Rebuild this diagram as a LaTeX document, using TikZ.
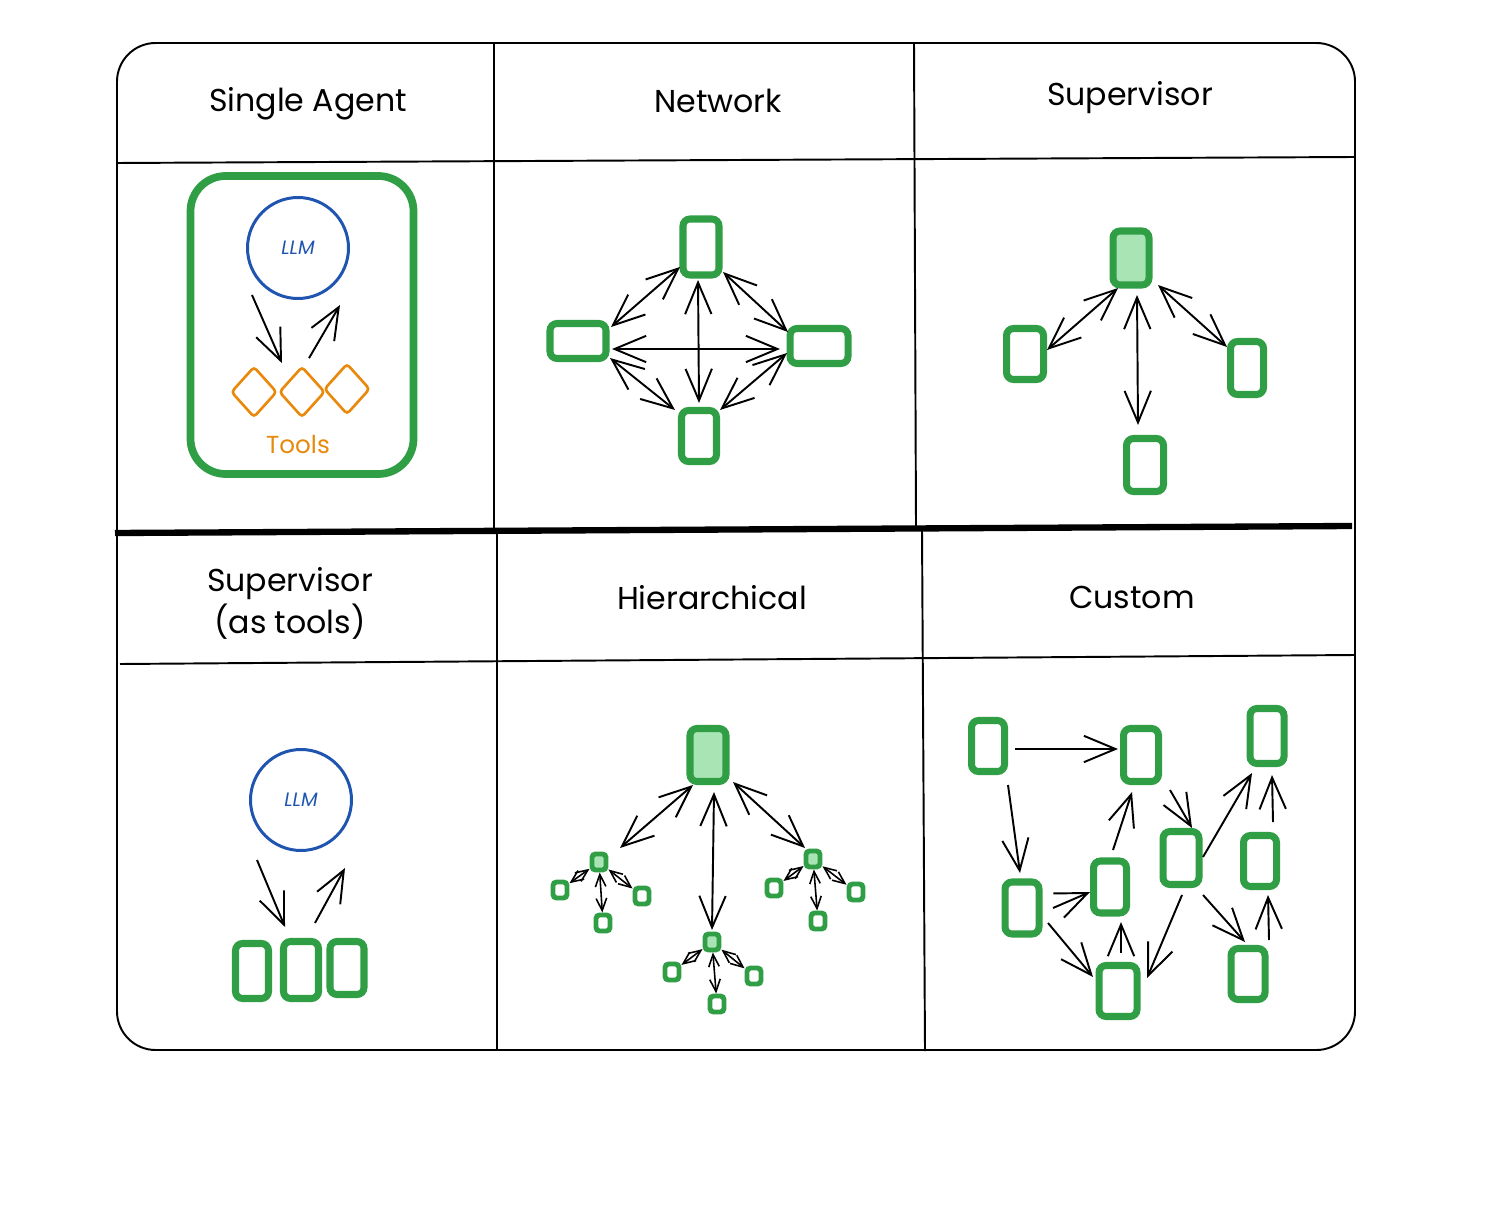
\documentclass[tikz,border=0pt]{standalone}
\usepackage{fontspec}
\setmainfont{Poppins}
\usetikzlibrary{arrows.meta,shapes.geometric}

\definecolor{agentgreen}{HTML}{2F9E44}
\definecolor{agentfill}{HTML}{A9E5B4}
\definecolor{llmblue}{HTML}{1F55B0}
\definecolor{toolorange}{HTML}{E8890C}

\tikzset{
  >={Straight Barb[length=18pt,width=15pt]},
  frame/.style={line width=1.1pt, black},
  heavyrule/.style={line width=3.6pt, black},
  header/.style={font=\fontsize{18}{24}\selectfont, align=center},
  agent/.style 2 args={draw=agentgreen, line width=4pt, rounded corners=4pt,
    fill=white, inner sep=0pt,
    minimum width={(#1-7)*0.02cm}, minimum height={(#2-7)*0.02cm}},
  boss/.style 2 args={agent={#1}{#2}, fill=agentfill},
  mini/.style={draw=agentgreen, line width=2.8pt, rounded corners=2pt,
    fill=white, inner sep=0pt,
    minimum width={14*0.02cm}, minimum height={16*0.02cm}},
  minifill/.style={mini, fill=agentfill},
  llm/.style={circle, draw=llmblue, line width=1.7pt, inner sep=0pt,
    minimum size={101*0.02cm}, text=llmblue,
    font=\itshape\fontsize{11}{13}\selectfont},
  tool/.style={diamond, draw=toolorange, line width=1.5pt, inner sep=0pt,
    rounded corners=2pt, minimum width={46*0.02cm}, minimum height={51*0.02cm}},
  link/.style={<->, line width=1.1pt, black},
  flow/.style={->, line width=1.1pt, black},
  sublink/.style={{Straight Barb[length=7pt,width=6pt]}-{Straight Barb[length=7pt,width=6pt]},
    line width=0.9pt, black},
}

\begin{document}
\begin{tikzpicture}[x=0.02cm, y=-0.02cm]
  \useasboundingbox (0,0) rectangle (1496,1222);
  \fill[white] (0,0) rectangle (1496,1222);

  % ---- grid of the six panels ----
  \draw[frame, rounded corners=22pt] (117,43) rectangle (1355,1050);
  \draw[frame] (494,43) -- (494,530);
  \draw[frame] (497,530) -- (497,1051);
  \draw[frame] (914,43) -- (916,527);
  \draw[frame] (922,530) -- (925,1051);
  \draw[frame] (117,163) -- (1355,157);
  \draw[frame] (120,664) -- (1355,655);
  \draw[heavyrule] (115,533) -- (1352,526);

  % ---- headers ----
  \node[header] (h1) at (308,104) {Single Agent};
  \node[header] (h2) at (718,101) {Network};
  \node[header] (h3) at (1130,98) {Supervisor};
  \node[header] (h4) at (290,603) {Supervisor\\(as tools)};
  \node[header] (h5) at (712,598) {Hierarchical};
  \node[header] (h6) at (1132,597) {Custom};

  % ---- single agent ----
  \node[draw=agentgreen, line width=4.4pt, rounded corners=20pt,
        minimum width={(231-8)*0.02cm}, minimum height={(306-8)*0.02cm}]
        (single) at (302,325) {};
  \node[llm] (llmA) at (298,248) {LLM};
  \node[tool] (tA1) at (254,392) {};
  \node[tool] (tA2) at (302,392) {};
  \node[tool] (tA3) at (347,389) {};
  \node[text=toolorange, font=\fontsize{14}{16}\selectfont] (tools) at (298,445) {Tools};
  \draw[flow] ([shift={(-20,2)}]llmA.240) -- ([shift={(-20,-2)}]tA2.north);
  \draw[flow] ([shift={(7,-7)}]tA2.north) -- ([shift={(16,12)}]llmA.300);

  % ---- network ----
  \node[agent={43}{63}] (nT) at (701,247) {};
  \node[agent={63}{42}] (nL) at (578,341) {};
  \node[agent={65}{42}] (nR) at (819,346) {};
  \node[agent={42}{58}] (nB) at (699,436) {};
  \draw[link] ([shift={(33,-14)}]nL.center) -- ([shift={(-21,20)}]nT.center);
  \draw[link] ([shift={(22,25)}]nT.center) -- ([shift={(-31,-14)}]nR.center);
  \draw[link] ([shift={(32,17)}]nL.center) -- ([shift={(-24,-26)}]nB.center);
  \draw[link] ([shift={(21,-26)}]nB.center) -- ([shift={(-32,7)}]nR.center);
  \draw[link] ([shift={(34,8)}]nL.center) -- ([shift={(-39,3)}]nR.center);
  \draw[link] ([shift={(-3,33)}]nT.center) -- ([shift={(0,-33)}]nB.center);

  % ---- supervisor ----
  \node[boss={43}{61}] (sS) at (1131,258) {};
  \node[agent={44}{58}] (sL) at (1025,354) {};
  \node[agent={40}{60}] (sR) at (1247,368) {};
  \node[agent={44}{60}] (sB) at (1145,465) {};
  \draw[link] ([shift={(-13,30)}]sS.center) -- ([shift={(22,-4)}]sL.center);
  \draw[link] ([shift={(6,37)}]sS.center) -- ([shift={(-7,-40)}]sB.center);
  \draw[link] ([shift={(27,27)}]sS.center) -- ([shift={(-20,-21)}]sR.center);

  % ---- supervisor (as tools) ----
  \node[llm] (llmB) at (301,800) {LLM};
  \node[agent={40}{62}] (tB1) at (252,971) {};
  \node[agent={42}{64}] (tB2) at (301,970) {};
  \node[agent={41}{60}] (tB3) at (347,968) {};
  \draw[flow] ([shift={(-18,15)}]llmB.240) -- ([shift={(-16,-11)}]tB2.north);
  \draw[flow] ([shift={(14,-15)}]tB2.north) -- ([shift={(18,23)}]llmB.300);

  % ---- hierarchical ----
  \node[boss={43}{60}] (hR) at (708,755) {};
  \node[minifill] (hA) at (599,862) {};
  \node[minifill] (hB) at (712,942) {};
  \node[minifill] (hC) at (813,859) {};
  \node[mini] (hA1) at (560,890) {};
  \node[mini] (hA2) at (642,896) {};
  \node[mini] (hA3) at (603,923) {};
  \node[mini] (hB1) at (672,972) {};
  \node[mini] (hB2) at (754,976) {};
  \node[mini] (hB3) at (717,1004) {};
  \node[mini] (hC1) at (774,888) {};
  \node[mini] (hC2) at (856,892) {};
  \node[mini] (hC3) at (818,921) {};
  \draw[link] ([shift={(-15,30)}]hR.center) -- ([shift={(21,-14)}]hA.center);
  \draw[link] ([shift={(6,37)}]hR.center) -- ([shift={(0,-12)}]hB.center);
  \draw[link] ([shift={(25,27)}]hR.center) -- ([shift={(-8,-11)}]hC.center);
  \foreach \p in {hA,hB,hC}{
    \foreach \c in {1,2,3}{
      \draw[sublink] (\p) -- (\p\c);
    }
  }

  % ---- custom ----
  \node[agent={40}{58}] (cA) at (988,746) {};
  \node[agent={42}{60}] (cB) at (1141,755) {};
  \node[agent={41}{62}] (cC) at (1267,736) {};
  \node[agent={41}{59}] (cD) at (1022,908) {};
  \node[agent={40}{59}] (cE) at (1110,887) {};
  \node[agent={43}{60}] (cF) at (1181,858) {};
  \node[agent={40}{58}] (cG) at (1260,861) {};
  \node[agent={45}{58}] (cH) at (1118,991) {};
  \node[agent={41}{58}] (cI) at (1248,974) {};
  \draw[flow] ([shift={(27,3)}]cA.center) -- ([shift={(-23,-6)}]cB.center);
  \draw[flow] ([shift={(20,39)}]cA.center) -- ([shift={(-2,-35)}]cD.center);
  \draw[flow] ([shift={(31,0)}]cD.center) -- ([shift={(-20,5)}]cE.center);
  \draw[flow] ([shift={(26,15)}]cD.center) -- ([shift={(-25,-14)}]cH.center);
  \draw[flow] ([shift={(3,-38)}]cH.center) -- ([shift={(11,35)}]cE.center);
  \draw[flow] ([shift={(3,-37)}]cE.center) -- ([shift={(-9,37)}]cB.center);
  \draw[flow] ([shift={(29,35)}]cB.center) -- ([shift={(11,-30)}]cF.center);
  \draw[flow] ([shift={(22,-1)}]cF.center) -- ([shift={(-15,37)}]cC.center);
  \draw[flow] ([shift={(1,37)}]cF.center) -- ([shift={(29,-13)}]cH.center);
  \draw[flow] ([shift={(22,37)}]cF.center) -- ([shift={(-3,-32)}]cI.center);
  \draw[flow] ([shift={(21,-34)}]cI.center) -- ([shift={(8,34)}]cG.center);
  \draw[flow] ([shift={(13,-39)}]cG.center) -- ([shift={(5,39)}]cC.center);
\end{tikzpicture}
\end{document}
